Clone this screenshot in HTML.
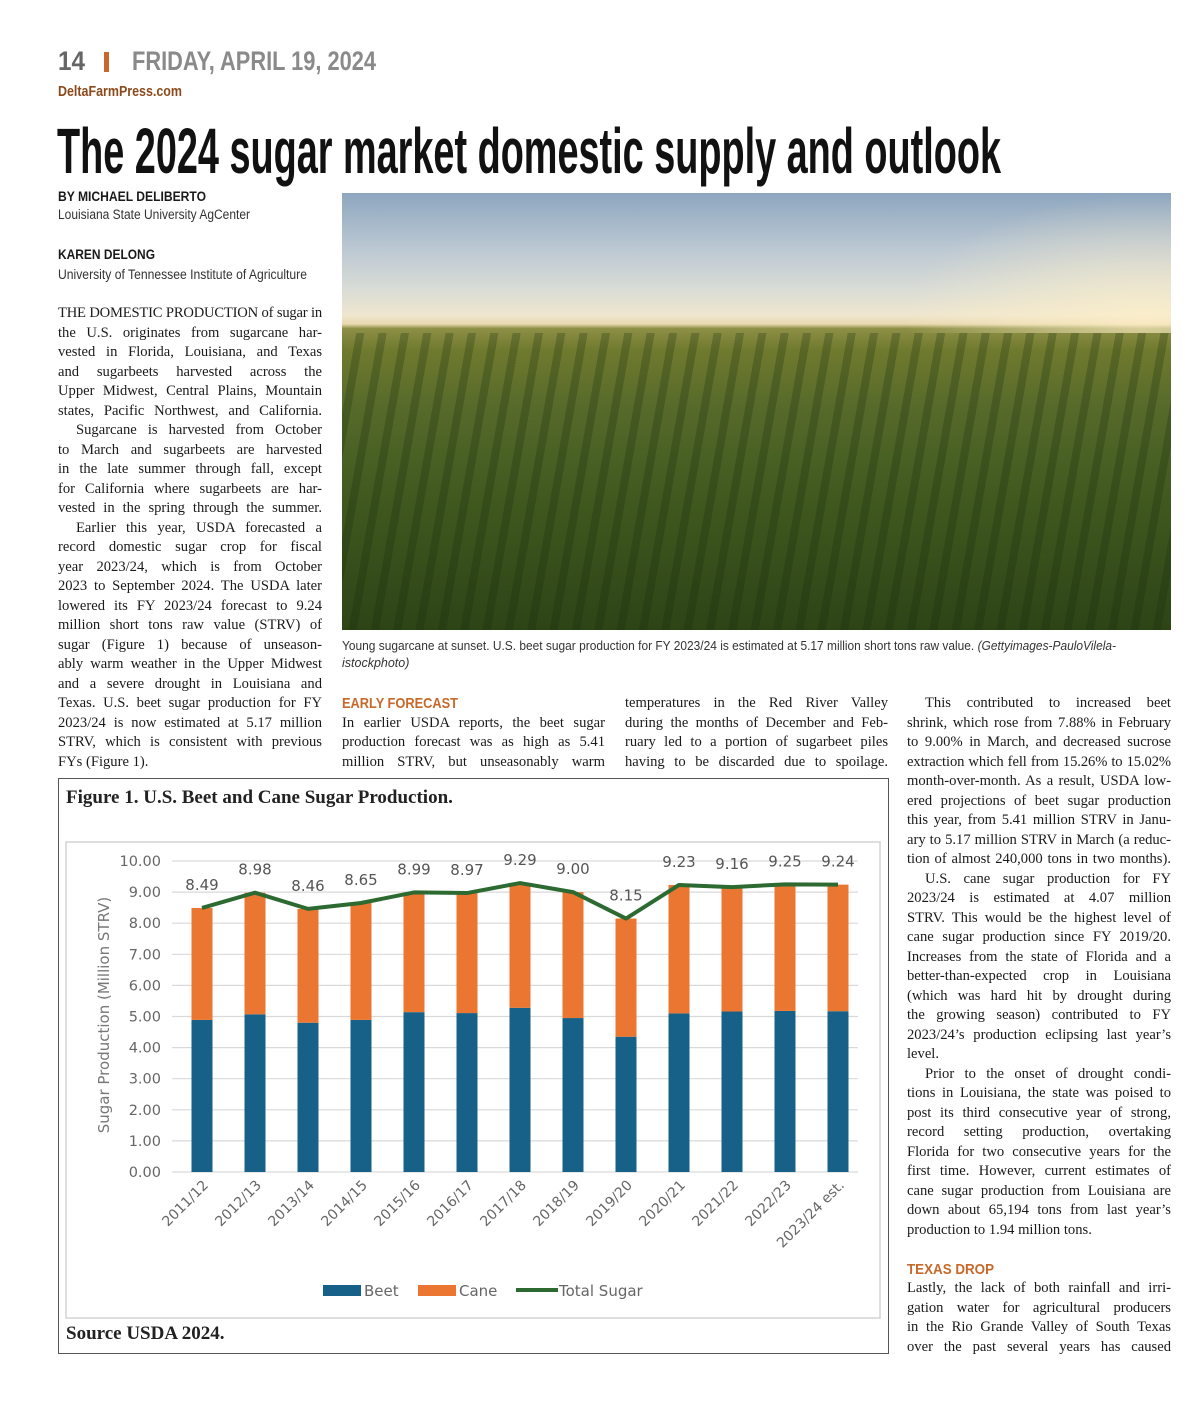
<!DOCTYPE html>
<html><head><meta charset="utf-8">
<style>
html,body{margin:0;padding:0;background:#fff;}
body{width:1200px;height:1405px;position:relative;overflow:hidden;font-family:"Liberation Serif",serif;color:#1a1a1a;}
.abs{position:absolute;white-space:nowrap;}
.fit{transform-origin:0 0;display:inline-block;}
.col{position:absolute;font-size:14.6px;line-height:19.5px;}
.col div{white-space:nowrap;height:19.5px;}
.col .j{text-align:justify;text-align-last:justify;}
.col .in{padding-left:18px;}
.head{font-family:"Liberation Sans",sans-serif;font-weight:bold;color:#c8692a;font-size:15px;}
</style></head><body>

<div class="abs" style="left:58px;top:46px;font:bold 27px 'Liberation Sans',sans-serif;color:#666;"><span class="fit" data-w="27">14</span></div>
<div class="abs" style="left:104px;top:52px;width:5px;height:20px;background:#c8692a;"></div>
<div class="abs" style="left:132px;top:46px;font:bold 27px 'Liberation Sans',sans-serif;color:#8a8a8a;"><span class="fit" data-w="244">FRIDAY, APRIL 19, 2024</span></div>
<div class="abs" style="left:58px;top:83px;font:bold 15px 'Liberation Sans',sans-serif;color:#8b4a1c;"><span class="fit" data-w="124">DeltaFarmPress.com</span></div>

<div class="abs" style="left:57px;top:114px;font:bold 64px 'Liberation Sans',sans-serif;color:#111;"><span class="fit" data-w="944">The 2024 sugar market domestic supply and outlook</span></div>

<div class="abs" style="left:58px;top:189px;font:bold 13.5px 'Liberation Sans',sans-serif;"><span class="fit" data-w="148">BY MICHAEL DELIBERTO</span></div>
<div class="abs" style="left:58px;top:207px;font:13.5px 'Liberation Sans',sans-serif;color:#333;"><span class="fit" data-w="192">Louisiana State University AgCenter</span></div>
<div class="abs" style="left:58px;top:247px;font:bold 13.5px 'Liberation Sans',sans-serif;"><span class="fit" data-w="97">KAREN DELONG</span></div>
<div class="abs" style="left:58px;top:267px;font:13.5px 'Liberation Sans',sans-serif;color:#333;"><span class="fit" data-w="249">University of Tennessee Institute of Agriculture</span></div>

<div class="abs" style="left:342px;top:193px;width:829px;height:437px;overflow:hidden;background:linear-gradient(180deg,#8ea6bf 0%,#b9c6d2 12%,#d9dcd6 22%,#efe6cf 28%,#e9d9b0 30%,#8d8f45 31%,#6f7a2e 36%,#55692a 50%,#40591f 70%,#2d4417 100%);">
  <div style="position:absolute;left:0;top:140px;width:829px;height:297px;background:repeating-linear-gradient(100deg,rgba(0,0,0,0) 0 14px,rgba(20,40,10,0.25) 14px 22px);"></div>
  <div style="position:absolute;left:560px;top:0;width:269px;height:140px;background:radial-gradient(ellipse at 90% 90%,rgba(255,240,200,0.7),rgba(255,255,255,0) 70%);"></div>
</div>
<div class="abs" style="left:342px;top:638px;font:12.5px 'Liberation Sans',sans-serif;color:#333;line-height:17px;"><span class="fit" data-w="774">Young sugarcane at sunset. U.S. beet sugar production for FY 2023/24 is estimated at 5.17 million short tons raw value. <i>(Gettyimages-PauloVilela-</i></span><br><i>istockphoto)</i></div>

<div class="col" style="left:58px;top:304px;width:264px;">
<div class="j">THE DOMESTIC PRODUCTION of sugar in</div>
<div class="j">the U.S. originates from sugarcane har-</div>
<div class="j">vested in Florida, Louisiana, and Texas</div>
<div class="j">and sugarbeets harvested across the</div>
<div class="j">Upper Midwest, Central Plains, Mountain</div>
<div class="j">states, Pacific Northwest, and California.</div>
<div class="j in">Sugarcane is harvested from October</div>
<div class="j">to March and sugarbeets are harvested</div>
<div class="j">in the late summer through fall, except</div>
<div class="j">for California where sugarbeets are har-</div>
<div class="j">vested in the spring through the summer.</div>
<div class="j in">Earlier this year, USDA forecasted a</div>
<div class="j">record domestic sugar crop for fiscal</div>
<div class="j">year 2023/24, which is from October</div>
<div class="j">2023 to September 2024. The USDA later</div>
<div class="j">lowered its FY 2023/24 forecast to 9.24</div>
<div class="j">million short tons raw value (STRV) of</div>
<div class="j">sugar (Figure 1) because of unseason-</div>
<div class="j">ably warm weather in the Upper Midwest</div>
<div class="j">and a severe drought in Louisiana and</div>
<div class="j">Texas. U.S. beet sugar production for FY</div>
<div class="j">2023/24 is now estimated at 5.17 million</div>
<div class="j">STRV, which is consistent with previous</div>
<div>FYs (Figure 1).</div>
</div>

<div class="col" style="left:342px;top:694px;width:263px;">
<div class="head"><span class="fit" data-w="116">EARLY FORECAST</span></div>
<div class="j">In earlier USDA reports, the beet sugar</div>
<div class="j">production forecast was as high as 5.41</div>
<div class="j">million STRV, but unseasonably warm</div>
</div>

<div class="col" style="left:625px;top:694px;width:263px;">
<div class="j">temperatures in the Red River Valley</div>
<div class="j">during the months of December and Feb-</div>
<div class="j">ruary led to a portion of sugarbeet piles</div>
<div class="j">having to be discarded due to spoilage.</div>
</div>

<div class="col" style="left:907px;top:694px;width:264px;">
<div class="j in">This contributed to increased beet</div>
<div class="j">shrink, which rose from 7.88% in February</div>
<div class="j">to 9.00% in March, and decreased sucrose</div>
<div class="j">extraction which fell from 15.26% to 15.02%</div>
<div class="j">month-over-month. As a result, USDA low-</div>
<div class="j">ered projections of beet sugar production</div>
<div class="j">this year, from 5.41 million STRV in Janu-</div>
<div class="j">ary to 5.17 million STRV in March (a reduc-</div>
<div class="j">tion of almost 240,000 tons in two months).</div>
<div class="j in">U.S. cane sugar production for FY</div>
<div class="j">2023/24 is estimated at 4.07 million</div>
<div class="j">STRV. This would be the highest level of</div>
<div class="j">cane sugar production since FY 2019/20.</div>
<div class="j">Increases from the state of Florida and a</div>
<div class="j">better-than-expected crop in Louisiana</div>
<div class="j">(which was hard hit by drought during</div>
<div class="j">the growing season) contributed to FY</div>
<div class="j">2023/24’s production eclipsing last year’s</div>
<div>level.</div>
<div class="j in">Prior to the onset of drought condi-</div>
<div class="j">tions in Louisiana, the state was poised to</div>
<div class="j">post its third consecutive year of strong,</div>
<div class="j">record setting production, overtaking</div>
<div class="j">Florida for two consecutive years for the</div>
<div class="j">first time. However, current estimates of</div>
<div class="j">cane sugar production from Louisiana are</div>
<div class="j">down about 65,194 tons from last year’s</div>
<div>production to 1.94 million tons.</div>
<div></div>
<div class="head"><span class="fit" data-w="87">TEXAS DROP</span></div>
<div class="j">Lastly, the lack of both rainfall and irri-</div>
<div class="j">gation water for agricultural producers</div>
<div class="j">in the Rio Grande Valley of South Texas</div>
<div class="j">over the past several years has caused</div>
</div>

<div class="abs" style="left:58px;top:778px;width:829px;height:574px;border:1px solid #555;"></div>
<div class="abs" style="left:66px;top:787px;font:bold 19px 'Liberation Serif',serif;color:#222;">Figure 1. U.S. Beet and Cane Sugar Production.</div>
<div class="abs" style="left:66px;top:1323px;font:bold 19px 'Liberation Serif',serif;color:#222;">Source USDA 2024.</div>

<svg id="chart" style="position:absolute;left:0;top:0;" width="1200" height="1405" font-family="'DejaVu Sans','Liberation Sans',sans-serif"></svg>

<script>
const categories = ["2011/12","2012/13","2013/14","2014/15","2015/16","2016/17","2017/18","2018/19","2019/20","2020/21","2021/22","2022/23","2023/24 est."];
const beetValues = [4.89,5.07,4.80,4.89,5.14,5.11,5.28,4.95,4.35,5.10,5.16,5.18,5.17];
const totalValues = [8.49,8.98,8.46,8.65,8.99,8.97,9.29,9.00,8.15,9.23,9.16,9.25,9.24];
const yTicks = [0,1,2,3,4,5,6,7,8,9,10];

const NS = "http://www.w3.org/2000/svg";
const svg = document.getElementById('chart');
const y0 = 1172, y10 = 861, x0 = 202, dx = 53.0, bw = 21;
function yScale(v){ return y0 - (v/10)*(y0-y10); }
function xScale(i){ return x0 + i*dx; }
function mk(tag, attrs){ const e = document.createElementNS(NS, tag); for (const k in attrs) e.setAttribute(k, attrs[k]); svg.appendChild(e); return e; }

const frame = mk('rect',{x:66,y:842,width:814,height:476,fill:'none',stroke:'#d4d4d4','stroke-width':1.5});



yTicks.forEach(t => {
  const g = mk('line',{x1:172,x2:858,y1:yScale(t),y2:yScale(t),stroke:'#d9d9d9','stroke-width':1.2});
  
  
  const l = mk('text',{x:161,y:yScale(t)+5,'text-anchor':'end','font-size':14.5,fill:'#666'});
  l.textContent = t.toFixed(2);
  
  
});

const yt = mk('text',{x:0,y:0,transform:'translate(109,1015) rotate(-90)','text-anchor':'middle','font-size':15,fill:'#777'});
yt.textContent = 'Sugar Production (Million STRV)';



categories.forEach((c,i) => {
  const cx = xScale(i);
  const b = mk('rect',{x:cx-bw/2,y:yScale(beetValues[i]),width:bw,height:y0-yScale(beetValues[i]),fill:'#176088'});
  
  
  const cn = mk('rect',{x:cx-bw/2,y:yScale(totalValues[i]),width:bw,height:yScale(beetValues[i])-yScale(totalValues[i]),fill:'#ea7631'});
  
  
  const xl = mk('text',{x:0,y:0,transform:`translate(${cx+7},1186) rotate(-45)`,'text-anchor':'end','font-size':14,fill:'#666'});
  xl.textContent = c;
  
  
});

const pts = totalValues.map((v,i) => xScale(i)+','+yScale(v)).join(' ');
const line = mk('polyline',{points:pts,fill:'none',stroke:'#2d6a32','stroke-width':4,'stroke-linejoin':'round'});



totalValues.forEach((v,i) => {
  const t = mk('text',{x:xScale(i),y:yScale(v)-18,'text-anchor':'middle','font-size':15,fill:'#555'});
  t.textContent = v.toFixed(2);
  
  
});

const legend = [["Beet",'#176088',323,'rect'],["Cane",'#ea7631',418,'rect'],["Total Sugar",'#2d6a32',516,'line']];
legend.forEach(L => {
  if (L[3]==='rect') {
    const r = mk('rect',{x:L[2],y:1285,width:38,height:11,fill:L[1]});
    
    
  } else {
    const r = mk('line',{x1:L[2],x2:L[2]+42,y1:1290,y2:1290,stroke:L[1],'stroke-width':4});
    
    
  }
  const t = mk('text',{x:L[2]+(L[3]==='rect'?41:43),y:1296,'font-size':15,fill:'#666'});
  t.textContent = L[0];
  
  
});

document.querySelectorAll('.fit').forEach(el => {
  const w = parseFloat(el.getAttribute('data-w'));
  const nat = el.getBoundingClientRect().width;
  if (nat > 0) el.style.transform = 'scaleX(' + (w/nat) + ')';
});

document.querySelectorAll('.col .j').forEach(el => {
  let ls = 0;
  while (el.scrollWidth > el.clientWidth + 0.5 && ls > -0.8) {
    ls -= 0.1;
    el.style.letterSpacing = ls.toFixed(2) + 'px';
  }
  if (el.scrollWidth > el.clientWidth + 0.5) {
    const s = el.clientWidth / el.scrollWidth;
    el.style.transformOrigin = '0 0';
    el.style.width = (el.scrollWidth) + 'px';
    el.style.transform = 'scaleX(' + s + ')';
  }
});
</script>
</body></html>
